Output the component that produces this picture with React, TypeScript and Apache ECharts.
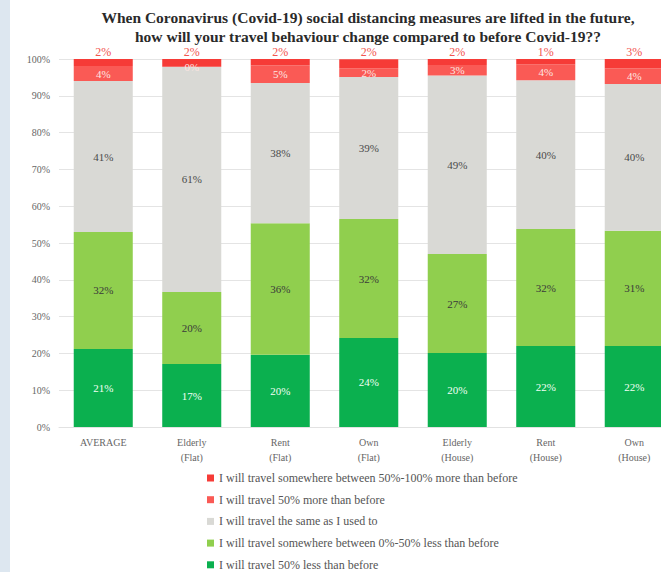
import React, { useEffect, useRef } from "react";
import * as echarts from "echarts";

const categories = [
  "AVERAGE",
  "Elderly\n(Flat)",
  "Rent\n(Flat)",
  "Own\n(Flat)",
  "Elderly\n(House)",
  "Rent\n(House)",
  "Own\n(House)",
];

const seriesNames = [
  "I will travel 50% less than before",
  "I will travel somewhere between 0%-50% less than before",
  "I will travel the same as I used to",
  "I will travel 50% more than before",
  "I will travel somewhere between 50%-100% more than before",
];

const lessThan50 = [21.2, 17.1, 19.6, 24.2, 20.1, 22.0, 22.0];
const lessThan0to50 = [31.8, 19.6, 35.8, 32.3, 26.9, 31.8, 31.3];
const same = [41.0, 61.2, 38.1, 38.6, 48.5, 40.4, 39.9];
const more50 = [4.1, 0.0, 4.7, 2.4, 2.9, 4.4, 4.2];
const more50to100 = [1.9, 2.1, 1.8, 2.4, 1.6, 1.4, 2.6];

const colors = ["#0bb04f", "#90cf4e", "#d9d9d5", "#fa5a55", "#f63b37"];
const labelColors = ["#f2fff4", "#3a3a3a", "#4a4a4a", "#fde6e2", "#f2554f"];

const FONT = "'Liberation Serif', 'DejaVu Serif', serif";

export default function App() {
  const ref = useRef<HTMLDivElement>(null);

  useEffect(() => {
    if (!ref.current) return;
    const chart = echarts.init(ref.current, null, { renderer: "svg" });
    const data = [lessThan50, lessThan0to50, same, more50, more50to100];
    const series = data.map((vals, i) => ({
      name: seriesNames[i],
      type: "bar",
      stack: "total",
      barWidth: "66.7%",
      data: vals,
      itemStyle: { color: colors[i] },
      label: {
        show: true,
        position: i === 4 ? "top" : "inside",
        distance: 1,
        color: labelColors[i],
        fontFamily: FONT,
        fontSize: i === 4 ? 12 : 11,
        formatter: (p: any) => `${Math.round(p.value)}%`,
      },
    }));

    chart.setOption({
      animation: false,
      backgroundColor: "transparent",
      textStyle: { fontFamily: FONT },
      graphic: [
        {
          type: "text",
          x: 368,
          y: 8,
          style: {
            text:
              "When Coronavirus (Covid-19) social distancing measures are lifted in the future,\nhow will your travel behaviour change compared to before Covid-19??",
            font: `bold 15.5px ${FONT}`,
            fill: "#2a2a2a",
            textAlign: "center",
            lineHeight: 19,
          },
        },
      ],
      legend: {
        orient: "vertical",
        left: 202,
        top: 466,
        itemWidth: 7,
        itemHeight: 7,
        itemGap: 7.7,
        icon: "rect",
        data: [...seriesNames].reverse(),
        textStyle: {
          fontFamily: FONT,
          fontSize: 12,
          color: "#555",
          lineHeight: 14,
        },
        selectedMode: false,
      },
      grid: { left: 59, right: 21.5, top: 59, bottom: 173 },
      xAxis: {
        type: "category",
        data: categories,
        axisLine: { lineStyle: { color: "#e2e2e2" } },
        axisTick: { show: false },
        axisLabel: {
          color: "#666",
          fontFamily: FONT,
          fontSize: 10,
          lineHeight: 15,
          margin: 8,
          interval: 0,
        },
      },
      yAxis: {
        type: "value",
        min: 0,
        max: 100,
        interval: 10,
        axisLine: { show: false },
        axisTick: { show: false },
        splitLine: { lineStyle: { color: "#e4e4e4" } },
        axisLabel: {
          formatter: "{value}%",
          color: "#666",
          fontFamily: FONT,
          fontSize: 10,
          margin: 9,
        },
      },
      series,
    });
    return () => chart.dispose();
  }, []);

  return (
    <div
      style={{
        position: "fixed",
        left: 0,
        top: 0,
        width: 661,
        height: 572,
        overflow: "hidden",
        background: "#fff",
      }}
    >
      <div
        ref={ref}
        style={{ position: "absolute", left: 0, top: 0, width: 700, height: 600 }}
      />
      <div
        style={{
          position: "absolute",
          left: 0,
          top: 0,
          width: 10,
          height: 572,
          background: "#dde7f0",
          zIndex: 2,
        }}
      />
    </div>
  );
}
